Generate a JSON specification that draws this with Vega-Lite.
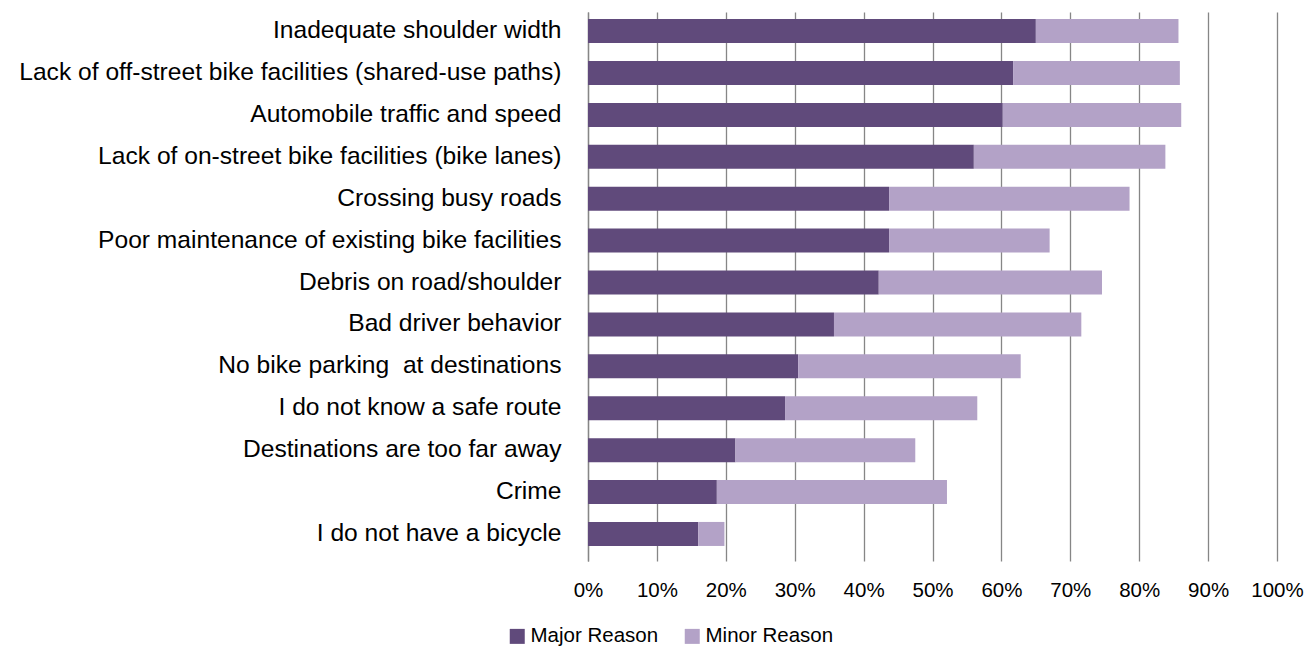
{
  "$schema": "https://vega.github.io/schema/vega-lite/v6.json",
  "autosize": {"type": "none"},
  "padding": {"left": 588, "top": 12, "right": 31, "bottom": 85},
  "width": 689,
  "height": 549,
  "background": "white",
  "config": {
    "view": {"stroke": null},
    "font": "Liberation Sans",
    "axis": {"labelFont": "Liberation Sans", "labelColor": "#000000"}
  },
  "data": {
    "values": [
      {"reason": "Inadequate shoulder width", "type": "Major Reason", "pct": 65.0},
      {"reason": "Inadequate shoulder width", "type": "Minor Reason", "pct": 20.7},
      {"reason": "Lack of off-street bike facilities (shared-use paths)", "type": "Major Reason", "pct": 61.7},
      {"reason": "Lack of off-street bike facilities (shared-use paths)", "type": "Minor Reason", "pct": 24.2},
      {"reason": "Automobile traffic and speed", "type": "Major Reason", "pct": 60.2},
      {"reason": "Automobile traffic and speed", "type": "Minor Reason", "pct": 25.9},
      {"reason": "Lack of on-street bike facilities (bike lanes)", "type": "Major Reason", "pct": 56.0},
      {"reason": "Lack of on-street bike facilities (bike lanes)", "type": "Minor Reason", "pct": 27.8},
      {"reason": "Crossing busy roads", "type": "Major Reason", "pct": 43.7},
      {"reason": "Crossing busy roads", "type": "Minor Reason", "pct": 34.9},
      {"reason": "Poor maintenance of existing bike facilities", "type": "Major Reason", "pct": 43.7},
      {"reason": "Poor maintenance of existing bike facilities", "type": "Minor Reason", "pct": 23.3},
      {"reason": "Debris on road/shoulder", "type": "Major Reason", "pct": 42.2},
      {"reason": "Debris on road/shoulder", "type": "Minor Reason", "pct": 32.4},
      {"reason": "Bad driver behavior", "type": "Major Reason", "pct": 35.7},
      {"reason": "Bad driver behavior", "type": "Minor Reason", "pct": 35.9},
      {"reason": "No bike parking\u00a0 at destinations", "type": "Major Reason", "pct": 30.5},
      {"reason": "No bike parking\u00a0 at destinations", "type": "Minor Reason", "pct": 32.3},
      {"reason": "I do not know a safe route", "type": "Major Reason", "pct": 28.6},
      {"reason": "I do not know a safe route", "type": "Minor Reason", "pct": 27.9},
      {"reason": "Destinations are too far away", "type": "Major Reason", "pct": 21.4},
      {"reason": "Destinations are too far away", "type": "Minor Reason", "pct": 26.1},
      {"reason": "Crime", "type": "Major Reason", "pct": 18.7},
      {"reason": "Crime", "type": "Minor Reason", "pct": 33.4},
      {"reason": "I do not have a bicycle", "type": "Major Reason", "pct": 16.0},
      {"reason": "I do not have a bicycle", "type": "Minor Reason", "pct": 3.8}
    ]
  },
  "mark": {"type": "bar"},
  "encoding": {
    "y": {
      "field": "reason",
      "type": "nominal",
      "sort": null,
      "scale": {"paddingInner": 0.427, "paddingOuter": 0.264, "align": 0.32},
      "axis": {
        "title": null,
        "ticks": false,
        "labelPadding": 27,
        "labelFontSize": 24.6,
        "labelLimit": 600,
        "domainColor": "#868686",
        "domainWidth": 1.3
      }
    },
    "x": {
      "field": "pct",
      "type": "quantitative",
      "stack": "zero",
      "scale": {"domain": [0, 100], "nice": false},
      "axis": {
        "title": null,
        "values": [0, 10, 20, 30, 40, 50, 60, 70, 80, 90, 100],
        "labelExpr": "datum.value + '%'",
        "ticks": false,
        "domain": false,
        "grid": true,
        "gridColor": "#868686",
        "gridWidth": 1.3,
        "labelPadding": 19,
        "labelFontSize": 20.5,
        "labelFlush": false
      }
    },
    "color": {
      "field": "type",
      "type": "nominal",
      "scale": {"domain": ["Major Reason", "Minor Reason"], "range": ["#604a7b", "#b3a2c7"]},
      "legend": {
        "title": null,
        "orient": "none",
        "direction": "horizontal",
        "legendX": -81,
        "legendY": 614,
        "symbolType": "square",
        "symbolSize": 225,
        "symbolStrokeWidth": 0,
        "symbolOpacity": 1,
        "labelFontSize": 20.5,
        "labelColor": "#000000",
        "labelOffset": 3,
        "columnPadding": 23
      }
    }
  }
}
